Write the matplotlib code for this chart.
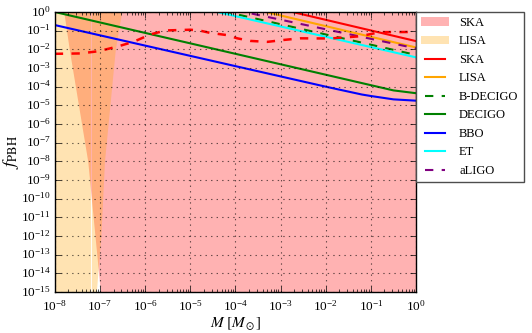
import numpy as np
import matplotlib
matplotlib.use("Agg")
from matplotlib import pyplot as plt
from matplotlib.ticker import LogLocator, NullLocator

# all values are log10
# shaded regions: boundary mass vs f_PBH
ska_f = [0, -2, -8, -15]
ska_edge = [-7.80, -7.68, -7.27, -6.99]

lisa_f = [0, -2, -8, -12, -15]
lisa_edge = [-6.52, -6.66, -6.90, -6.98, -7.08]
lisa_seam = -7.19

# sensitivity curves (log10 M, log10 f)
ska_M, ska_line = [-3.0, 0.0], [0.15, -1.56]
lisa_M, lisa_line = [-3.5, 0.0], [0.10, -1.90]
bdecigo_M, bdecigo_line = [-5.0, 0.0], [0.44, -2.30]
decigo_M = [-8, -6, -4, -2, -1, -0.5, 0]
decigo_line = [0.0, -1.12, -2.24, -3.36, -3.92, -4.20, -4.35]
bbo_M = [-8, -6, -4, -2, -1.2, -1, -0.5, 0]
bbo_line = [-0.70, -1.80, -2.90, -4.00, -4.42, -4.50, -4.68, -4.75]
et_M, et_line = [-5.0, 0.0], [0.33, -2.43]
aligo_M, aligo_line = [-4.0, 0.0], [0.10, -1.95]

skad_M = [-8.0, -7.43, -7.03, -6.61, -6.26, -5.88, -5.55, -5.0, -4.78, -4.56,
          -4.18, -3.96, -3.67, -3.29, -2.94, -2.56, -1.9, -1.24, -0.8, 0.0]
skad_line = [-2.24, -2.22, -2.10, -1.85, -1.60, -1.20, -0.99, -0.95, -1.00, -1.12,
             -1.24, -1.41, -1.55, -1.60, -1.50, -1.41, -1.42, -1.30, -1.08, -1.07]

p = lambda a: 10.0 ** np.asarray(a)

plt.style.use("classic")
plt.rcParams["font.family"] = ["Liberation Serif", "DejaVu Serif"]
plt.rcParams["mathtext.fontset"] = "stix"
plt.rcParams["figure.facecolor"] = "white"
plt.rcParams["savefig.facecolor"] = "white"

fig = plt.figure(figsize=(5.32, 3.33), dpi=100)
ax = fig.add_axes([0.103, 0.123, 0.679, 0.841])
ax.set_xscale("log")
ax.set_yscale("log")

ax.fill_betweenx(p(ska_f), p(ska_edge), 1.0, color="red", alpha=0.3, lw=0, label="SKA")
ax.fill_betweenx(p(lisa_f), 1e-8, p(lisa_seam), color="orange", alpha=0.3, lw=0, label="LISA")
ax.fill_betweenx(p(lisa_f), p(lisa_seam), p(lisa_edge), color="orange", alpha=0.3, lw=0)

ax.plot(p(ska_M), p(ska_line), color="red", lw=1.5, label="SKA")
ax.plot(p(lisa_M), p(lisa_line), color="orange", lw=1.5, label="LISA")
ax.plot(p(bdecigo_M), p(bdecigo_line), color="green", ls="--", lw=1.5, label="B-DECIGO")
ax.plot(p(decigo_M), p(decigo_line), color="green", lw=1.5, label="DECIGO")
ax.plot(p(bbo_M), p(bbo_line), color="blue", lw=1.5, label="BBO")
ax.plot(p(et_M), p(et_line), color="cyan", lw=1.5, label="ET")
ax.plot(p(aligo_M), p(aligo_line), color="purple", ls="--", lw=1.5, label="aLIGO")
ax.plot(p(skad_M), p(skad_line), color="red", ls="--", lw=1.8)

ax.set_xlim(1e-8, 1)
ax.set_ylim(1e-15, 1)
ax.xaxis.set_major_locator(LogLocator(base=10, numticks=20))
ax.yaxis.set_major_locator(LogLocator(base=10, numticks=20))
ax.yaxis.set_minor_locator(NullLocator())
ax.tick_params(labelsize=9.5)
ax.tick_params(axis="x", pad=5)
ax.tick_params(axis="y", pad=3)
ax.grid(True, color="k", ls=":", lw=0.8, alpha=0.6)

ax.set_xlabel(r"$M\;[M_\odot]$", fontsize=11, labelpad=1)
ax.set_ylabel(r"$f_{\rm PBH}$", fontsize=13, labelpad=0)

leg = ax.legend(loc="upper left", bbox_to_anchor=(1.0, 1.0), borderaxespad=0.0,
                fontsize=9, handlelength=2.25, labelspacing=0.52)
leg.get_frame().set_edgecolor("0.3")

fig.savefig("out.png", dpi=100)
